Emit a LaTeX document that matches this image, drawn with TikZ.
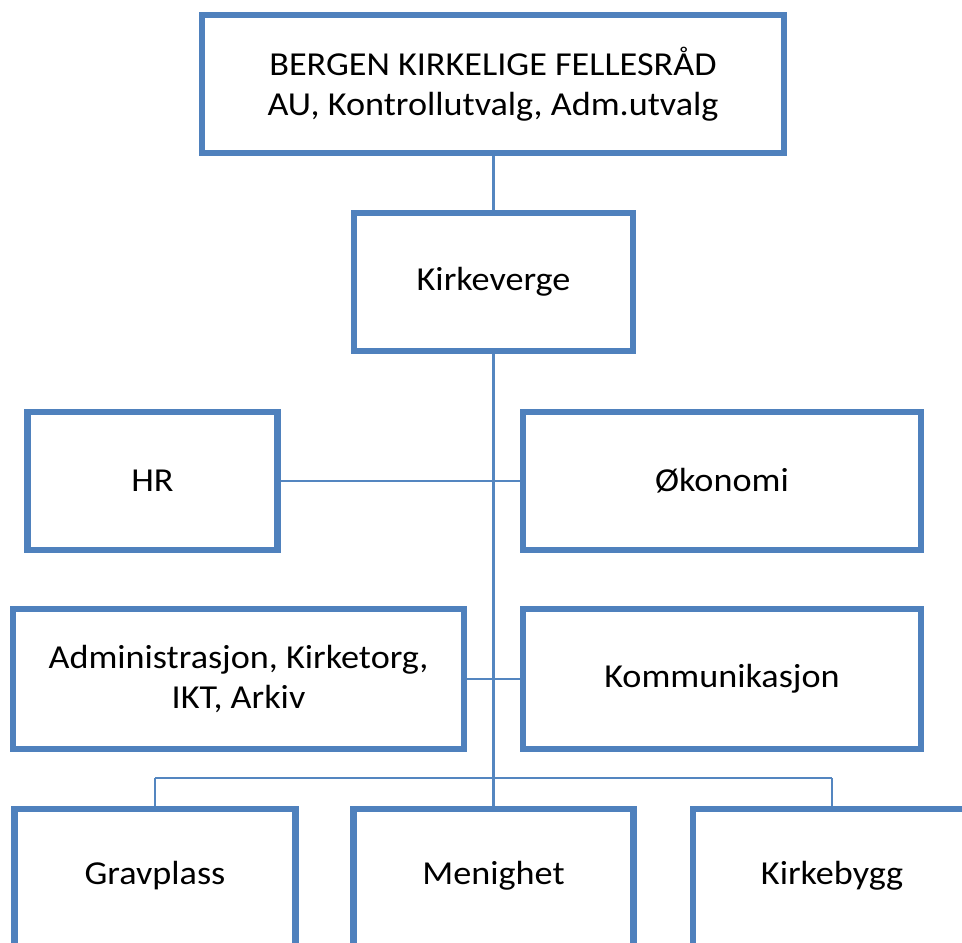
\documentclass[tikz,border=0pt]{standalone}
\usepackage{fontspec}
\setmainfont[FakeStretch=1.08]{Carlito}
\definecolor{boxblue}{RGB}{79,129,189}
\definecolor{lineblue}{RGB}{84,134,192}
\begin{document}
\begin{tikzpicture}[x=1pt,y=-1pt,
  orgbox/.style={draw=boxblue, line width=4.2pt, fill=white, rectangle, inner sep=0pt,
    minimum height=136pt, align=center, font=\fontsize{33.5}{39.5}\selectfont},
  lbl/.style={font=\fontsize{33.5}{39.5}\selectfont, inner sep=0pt},
  conn/.style={draw=lineblue, line width=2.8pt}]
\useasboundingbox (0,0) rectangle (962,943);
\clip (0,0) rectangle (962,943);
\fill[white] (0,0) rectangle (962,943);
% nodes
\node[orgbox, minimum width=580pt] (top) at (493,84) {BERGEN KIRKELIGE FELLESRÅD\\AU, Kontrollutvalg, Adm.utvalg};
\node[orgbox, minimum width=277pt] (kv) at (493.5,282) {Kirkeverge};
\node[orgbox, minimum width=248pt] (hr) at (152.5,481) {HR};
\node[orgbox, minimum width=396pt] (ok) at (722,481) {Økonomi};
\node[orgbox, minimum width=449pt, minimum height=138pt] (adm) at (238.5,679) {Administrasjon, Kirketorg,\\IKT, Arkiv};
\node[orgbox, minimum width=396pt, minimum height=138pt] (kom) at (722,679) {Kommunikasjon};
\node[orgbox, minimum width=279pt] (grav) at (155,878) {};
\node[orgbox, minimum width=278pt] (men) at (493.5,878) {};
\node[orgbox, minimum width=276pt] (kb) at (832,878) {};
\node[lbl] (gravt) at (155,876) {Gravplass};
\node[lbl] (ment) at (493.5,876) {Menighet};
\node[lbl] (kbt) at (832,876) {Kirkebygg};
\coordinate (busL) at (155,778);
\coordinate (busR) at (832,778);
% connectors
\draw[conn] (kv.north) -- (kv.north |- top.south);
\draw[conn] (kv.south) -- (kv.south |- men.north);
\draw[conn] (hr.east) -- (ok.west);
\draw[conn] (adm.east) -- (kom.west);
\draw[conn] (busL) -- (busR);
\draw[conn] (busL) -- (grav.north);
\draw[conn] (busR) -- (kb.north);
% box borders on top of connector ends
\foreach \n in {top,kv,hr,ok,adm,kom,grav,men,kb}{
  \draw[boxblue, line width=4.2pt] (\n.north west) rectangle (\n.south east);
}
\end{tikzpicture}
\end{document}
